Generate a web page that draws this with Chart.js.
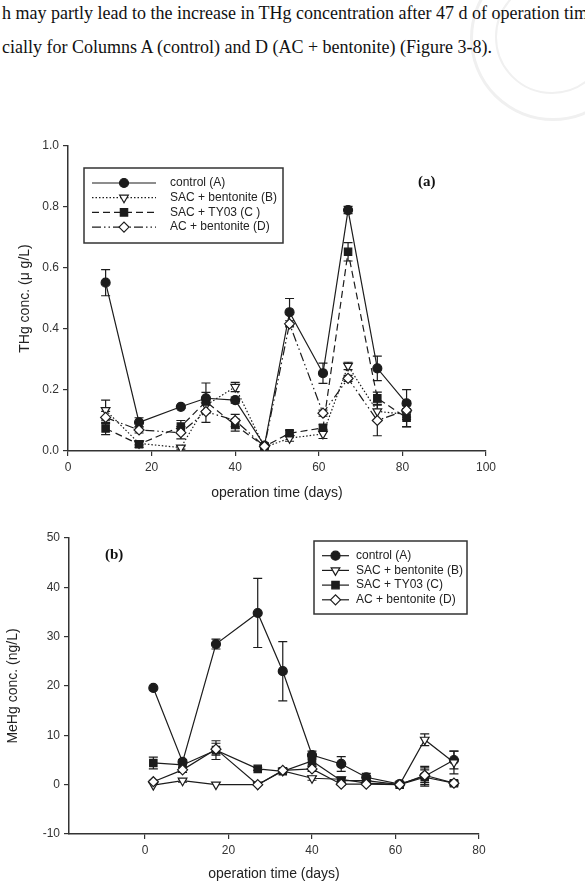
<!DOCTYPE html>
<html>
<head>
<meta charset="utf-8">
<script src="https://cdn.jsdelivr.net/npm/chart.js@4.4.1/dist/chart.umd.min.js"></script>
<style>
body { margin: 0; width: 585px; height: 883px; overflow: hidden; background: #fff; position: relative; }
.txt { position: absolute; left: 2px; white-space: nowrap; font: 18px "Liberation Serif", "Times New Roman", serif; color: #111; line-height: 20px; }
.seal { position: absolute; border-radius: 50%; border: 3px solid #f0f0f0; }
.tag { position: absolute; font: bold 15px "Liberation Serif", serif; color: #111; }
#ca { position: absolute; left: 0; top: 130px; }
#cb { position: absolute; left: 0; top: 510px; }
</style>
</head>
<body>
<div class="seal" style="left:470px;top:-45px;width:160px;height:160px;"></div>
<div class="seal" style="left:495px;top:-20px;width:110px;height:110px;border-width:2px;"></div>
<div class="txt" style="top:3px;">h may partly lead to the increase in THg concentration after 47 d of operation tim</div>
<div class="txt" style="top:37px;">cially for Columns A (control) and D (AC + bentonite) (Figure 3-8).</div>

<canvas id="ca" width="520" height="380"></canvas>
<canvas id="cb" width="520" height="373"></canvas>
<div class="tag" style="left:418px;top:173px;">(a)</div>
<div class="tag" style="left:105px;top:546px;">(b)</div>

<script>
// series names (same for both panels)
let seriesNames = ["control (A)", "SAC + bentonite (B)", "SAC + TY03 (C )", "AC + bentonite (D)"];
let seriesNamesB = ["control (A)", "SAC + bentonite (B)", "SAC + TY03 (C)", "AC + bentonite (D)"];

// (a) THg, ug/L
let daysA = [9, 17, 27, 33, 40, 47, 53, 61, 67, 74, 81];
let thgA = [0.552, 0.094, 0.145, 0.173, 0.167, 0.018, 0.455, 0.255, 0.79, 0.271, 0.156];
let thgB = [0.134, 0.025, 0.011, 0.15, 0.21, 0.012, 0.042, 0.056, 0.279, 0.13, 0.12];
let thgC = [0.074, 0.022, 0.08, 0.162, 0.085, 0.015, 0.058, 0.076, 0.653, 0.173, 0.109];
let thgD = [0.11, 0.069, 0.06, 0.129, 0.1, 0.015, 0.417, 0.124, 0.238, 0.1, 0.134];
let thgAErr = [0.043, 0.015, 0.005, 0.05, 0.01, 0.005, 0.045, 0.033, 0.012, 0.04, 0.045];
let thgBErr = [0.033, 0.005, 0.005, 0.02, 0.015, 0.005, 0.01, 0.015, 0.012, 0.03, 0.04];
let thgCErr = [0.02, 0.01, 0.02, 0.03, 0.02, 0.005, 0.01, 0.01, 0.03, 0.02, 0.03];
let thgDErr = [0.02, 0.01, 0.02, 0.035, 0.02, 0.005, 0.01, 0.01, 0.01, 0.05, 0.03];

// (b) MeHg, ng/L
let daysB = [2, 9, 17, 27, 33, 40, 47, 53, 61, 67, 74];
let mehgA = [19.6, 4.6, 28.5, 34.8, 23.0, 6.0, 4.2, 1.5, 0.1, 1.7, 5.0];
let mehgB = [-0.1, 0.8, 0, 0, 2.8, 1.3, 1.1, 0.3, 0, 9.1, 4.5];
let mehgC = [4.4, 4.0, 7.0, 3.2, 2.7, 4.8, 0.8, 0.8, 0, 1.5, 0.3];
let mehgD = [0.6, 3.0, 7.2, 0, 2.9, 3.2, 0.1, 0.1, 0, 1.9, 0.3];
let mehgAErr = [0, 0.5, 1, 7, 6, 0.8, 1.5, 0.8, 0.3, 2, 1.8];
let mehgBErr = [0, 0.3, 0, 0, 0.3, 0.4, 0.3, 0.2, 0, 1.2, 2.3];
let mehgCErr = [1.2, 0.5, 1.9, 0.3, 0.3, 1, 0.5, 0.5, 0, 1.5, 0.5];
let mehgDErr = [0.3, 0.5, 1.2, 0, 0.3, 0.5, 0.2, 0.2, 0, 1.5, 0.3];

let xTicksA = [0, 20, 40, 60, 80, 100];
let xTicksB = [0, 20, 40, 60, 80];

const INK = "#1c1c1c";
const AXIS = "#333";

function toXY(xs, ys) {
	return xs.map((x, i) => ({x: x, y: ys[i]}));
}

// marker styles: circle / down triangle / square / diamond
let markers = [
	{pointStyle: "circle", pointRadius: 4.5, pointRotation: 0, fill: INK},
	{pointStyle: "triangle", pointRadius: 5, pointRotation: 180, fill: "#fff"},
	{pointStyle: "rect", pointRadius: 5.2, pointRotation: 0, fill: INK},
	{pointStyle: "rectRot", pointRadius: 5, pointRotation: 0, fill: "#fff"}
];

function makeSet(label, xs, ys, errs, k, dash, order) {
	let m = markers[k];
	return {
		label: label,
		data: toXY(xs, ys),
		errors: errs,
		borderColor: INK,
		borderWidth: 1.2,
		borderDash: dash,
		pointStyle: m.pointStyle,
		pointRadius: m.pointRadius,
		pointRotation: m.pointRotation,
		pointBackgroundColor: m.fill,
		pointBorderColor: INK,
		pointBorderWidth: 1.2,
		fill: false,
		tension: 0,
		order: order
	};
}

// vertical error bars with caps, under the markers
const errorBars = {
	id: "errorBars",
	beforeDatasetsDraw(chart) {
		let ctx = chart.ctx, xs = chart.scales.x, ys = chart.scales.y;
		chart.data.datasets.forEach(ds => {
			if (!ds.errors) return;
			ctx.save();
			ctx.strokeStyle = INK;
			ctx.lineWidth = 1.2;
			ctx.setLineDash([]);
			ds.data.forEach((p, i) => {
				let e = ds.errors[i];
				if (!e) return;
				let px = xs.getPixelForValue(p.x);
				let top = ys.getPixelForValue(p.y + e);
				let bot = ys.getPixelForValue(p.y - e);
				ctx.beginPath();
				ctx.moveTo(px, top); ctx.lineTo(px, bot);
				ctx.moveTo(px - 4.5, top); ctx.lineTo(px + 4.5, top);
				ctx.moveTo(px - 4.5, bot); ctx.lineTo(px + 4.5, bot);
				ctx.stroke();
			});
			ctx.restore();
		});
	}
};

// boxed legend with line samples like the original figure
const boxLegend = {
	id: "boxLegend",
	afterDraw(chart, args, o) {
		let ctx = chart.ctx;
		ctx.save();
		ctx.strokeStyle = AXIS;
		ctx.lineWidth = 1.5;
		ctx.strokeRect(o.left, o.top, o.width, o.height);
		ctx.font = o.font;
		ctx.textBaseline = "middle";
		chart.data.datasets.forEach((ds, i) => {
			let y = o.rowY + i * o.rowGap;
			ctx.strokeStyle = INK;
			ctx.lineWidth = 1.2;
			ctx.setLineDash(ds.borderDash || []);
			ctx.beginPath();
			ctx.moveTo(o.lineX0, y); ctx.lineTo(o.lineX1, y);
			ctx.stroke();
			ctx.setLineDash([]);
			ctx.fillStyle = ds.pointBackgroundColor;
			Chart.helpers.drawPoint(ctx, {
				pointStyle: ds.pointStyle,
				rotation: ds.pointRotation,
				radius: ds.pointRadius,
				borderWidth: 1.2
			}, (o.lineX0 + o.lineX1) / 2, y);
			ctx.fillStyle = "#222";
			ctx.fillText(ds.label, o.textX, y);
		});
		ctx.restore();
	}
};

let tickFont = {family: "Liberation Sans", size: 12};
let titleFont = {family: "Liberation Sans", size: 14};

function axisOpts(extra) {
	return Object.assign({
		type: "linear",
		border: {display: true, color: AXIS, width: 1.5},
		grid: {drawOnChartArea: false, drawTicks: true, tickLength: 5, color: AXIS, lineWidth: 1.2},
		ticks: {color: "#333", font: tickFont, padding: 4}
	}, extra);
}

// (a) THg
new Chart(document.getElementById("ca"), {
	type: "line",
	data: {
		datasets: [
			makeSet(seriesNames[0], daysA, thgA, thgAErr, 0, [], 4),
			makeSet(seriesNames[1], daysA, thgB, thgBErr, 1, [1.5, 2], 3),
			makeSet(seriesNames[2], daysA, thgC, thgCErr, 2, [7, 4], 2),
			makeSet(seriesNames[3], daysA, thgD, thgDErr, 3, [9, 3, 1.5, 3, 1.5, 3], 1)
		]
	},
	options: {
		responsive: false,
		animation: false,
		events: [],
		layout: {padding: {left: 0, top: 16, right: 34, bottom: 0}},
		plugins: {
			legend: {display: false},
			tooltip: {enabled: false},
			boxLegend: {left: 84, top: 38, width: 199, height: 75, rowY: 53, rowGap: 14.7,
				lineX0: 92, lineX1: 156, textX: 170, font: "12px 'Liberation Sans'"}
		},
		scales: {
			x: axisOpts({
				min: 0, max: 100,
				afterFit: s => { s.height = 59; },
				afterBuildTicks: s => { s.ticks = xTicksA.map(v => ({value: v})); },
				title: {display: true, text: "operation time (days)", color: "#222", font: titleFont, padding: {top: 0, bottom: 8.6}}
			}),
			y: axisOpts({
				min: 0, max: 1,
				afterFit: s => { s.width = 68; },
				ticks: {color: "#333", font: tickFont, padding: 4, stepSize: 0.2,
					callback: v => Number(v).toFixed(1)},
				title: {display: true, text: "THg conc. (\u03bc g/L)", color: "#222", font: titleFont, padding: {top: 16.6, bottom: 0}}
			})
		}
	},
	plugins: [errorBars, boxLegend]
});

// (b) MeHg
new Chart(document.getElementById("cb"), {
	type: "line",
	data: {
		datasets: [
			makeSet(seriesNamesB[0], daysB, mehgA, mehgAErr, 0, [], 4),
			makeSet(seriesNamesB[1], daysB, mehgB, mehgBErr, 1, [], 3),
			makeSet(seriesNamesB[2], daysB, mehgC, mehgCErr, 2, [], 2),
			makeSet(seriesNamesB[3], daysB, mehgD, mehgDErr, 3, [], 1)
		]
	},
	options: {
		responsive: false,
		animation: false,
		events: [],
		layout: {padding: {left: 0, top: 28, right: 41, bottom: 0}},
		plugins: {
			legend: {display: false},
			tooltip: {enabled: false},
			boxLegend: {left: 314, top: 31, width: 153, height: 73, rowY: 45.7, rowGap: 14.7,
				lineX0: 322, lineX1: 349, textX: 356, font: "12px 'Liberation Sans'"}
		},
		scales: {
			x: axisOpts({
				min: -18.2, max: 80,
				afterFit: s => { s.height = 49; },
				afterBuildTicks: s => { s.ticks = xTicksB.map(v => ({value: v})); },
				title: {display: true, text: "operation time (days)", color: "#222", font: titleFont, padding: {top: 0, bottom: 0}}
			}),
			y: axisOpts({
				min: -10, max: 50,
				afterFit: s => { s.width = 69; },
				ticks: {color: "#333", font: tickFont, padding: 4, stepSize: 10},
				title: {display: true, text: "MeHg conc. (ng/L)", color: "#222", font: titleFont, padding: {top: 4.6, bottom: 0}}
			})
		}
	},
	plugins: [errorBars, boxLegend]
});
</script>
</body>
</html>
